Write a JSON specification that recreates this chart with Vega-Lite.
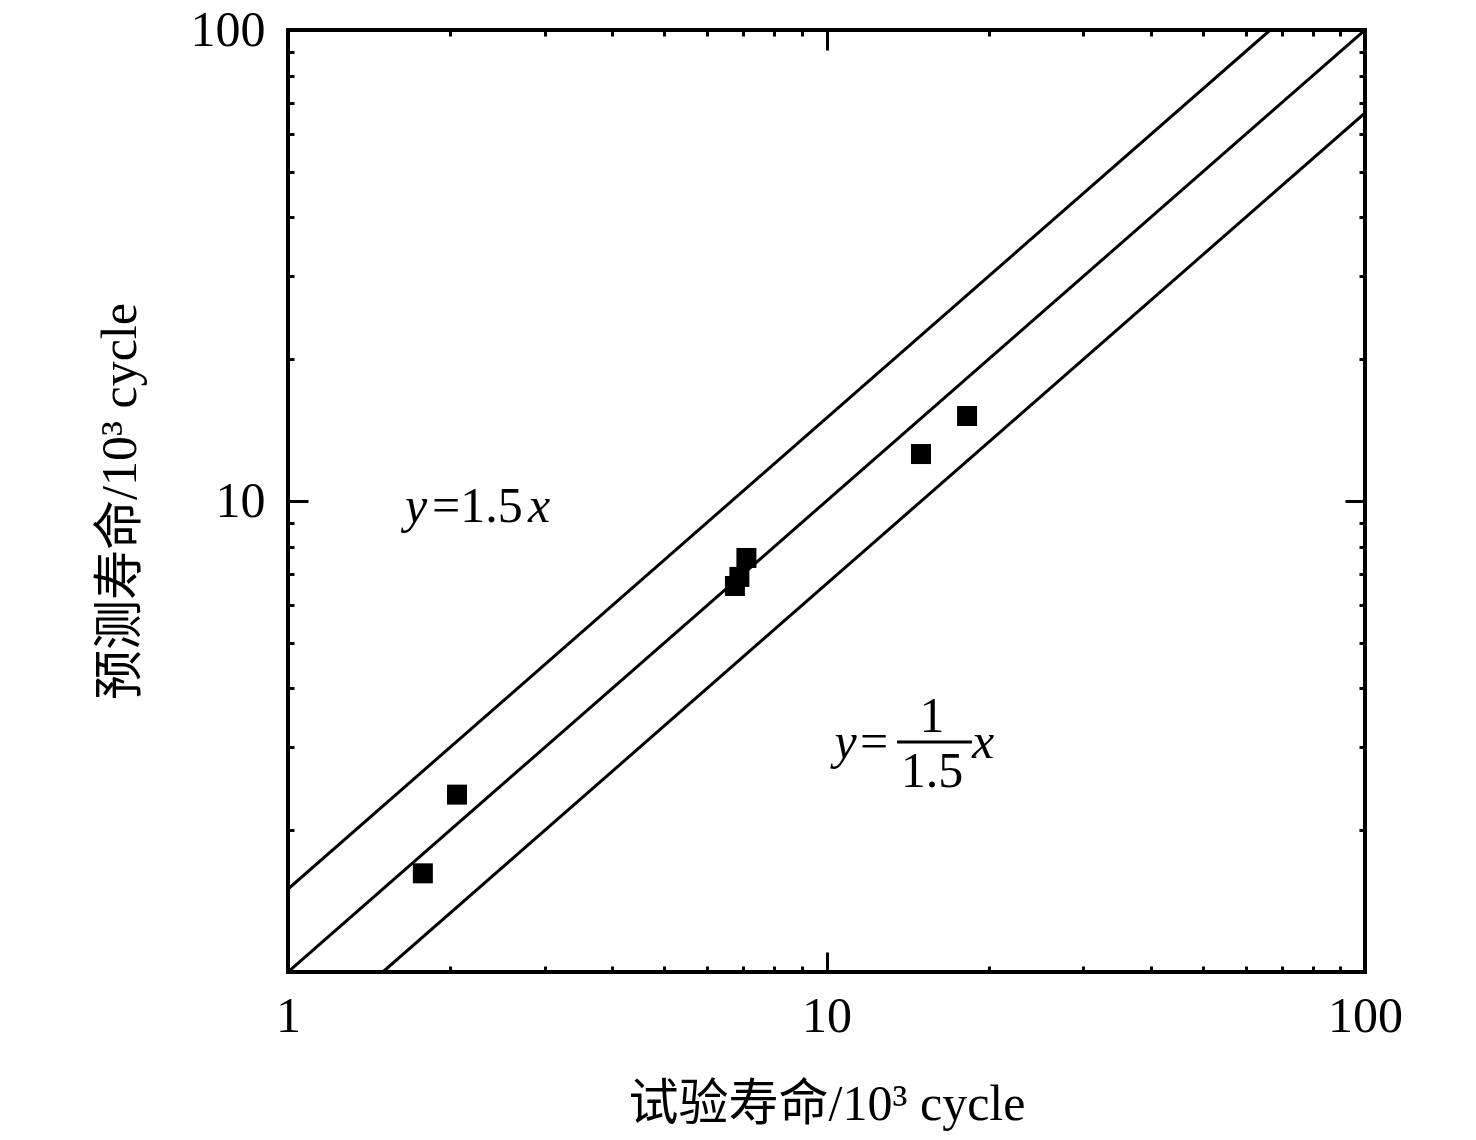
{
  "$schema": "https://vega.github.io/schema/vega-lite/v6.json",
  "autosize": {"type": "none"},
  "padding": {"left": 288, "top": 30, "right": 111, "bottom": 168},
  "width": 1077,
  "height": 942,
  "background": "white",
  "config": {
    "view": {"stroke": "black", "strokeWidth": 4},
    "axis": {
      "domain": false,
      "grid": false,
      "tickColor": "black",
      "tickWidth": 3,
      "labelFont": "Liberation Serif",
      "labelFontSize": 50,
      "labelColor": "black",
      "labelFlush": false,
      "labelOverlap": false,
      "labelBound": false,
      "titleFont": "Liberation Serif, Noto Sans CJK SC",
      "titleFontSize": 50,
      "titleFontWeight": "normal",
      "titleColor": "black"
    }
  },
  "datasets": {
    "guides": [
      {"series": "y=1.5x", "test": 1, "pred": 1.5},
      {"series": "y=1.5x", "test": 66.667, "pred": 100},
      {"series": "y=x", "test": 1, "pred": 1},
      {"series": "y=x", "test": 100, "pred": 100},
      {"series": "y=x/1.5", "test": 1.5, "pred": 1},
      {"series": "y=x/1.5", "test": 100, "pred": 66.667}
    ],
    "samples": [
      {"test": 1.78, "pred": 1.62},
      {"test": 2.06, "pred": 2.38},
      {"test": 6.76, "pred": 6.60},
      {"test": 6.89, "pred": 6.90},
      {"test": 7.10, "pred": 7.57},
      {"test": 14.98, "pred": 12.58},
      {"test": 18.24, "pred": 15.15}
    ],
    "variables": [
      {"text": "y", "test": 1.649, "pred": 9.02},
      {"text": "x", "test": 2.791, "pred": 9.02},
      {"text": "y", "test": 10.35, "pred": 2.847},
      {"text": "x", "test": 18.63, "pred": 2.847}
    ],
    "constants": [
      {"text": "=1.5", "test": 1.851, "pred": 9.02},
      {"text": "=", "test": 11.54, "pred": 2.847}
    ],
    "fraction": [
      {"text": "1", "test": 15.7, "pred": 3.233},
      {"text": "1.5", "test": 15.7, "pred": 2.471}
    ],
    "bar": [
      {"from": 13.52, "to": 18.63, "pred": 3.078}
    ]
  },
  "layer": [
    {
      "data": {"name": "guides"},
      "mark": {"type": "line", "color": "black", "strokeWidth": 3, "clip": true},
      "encoding": {
        "x": {
          "field": "test",
          "type": "quantitative",
          "scale": {"type": "log", "domain": [1, 100], "nice": false},
          "axis": {
            "orient": "bottom",
            "values": [1, 2, 3, 4, 5, 6, 7, 8, 9, 10, 20, 30, 40, 50, 60, 70, 80, 90, 100],
            "tickSize": {"condition": {"test": "datum.value == 1 || datum.value == 10 || datum.value == 100", "value": -20}, "value": -6},
            "labelPadding": 39,
            "labelExpr": "datum.value == 1 || datum.value == 10 || datum.value == 100 ? '' + datum.value : ''",
            "title": "试验寿命/10³ cycle",
            "titlePadding": 24
          }
        },
        "y": {
          "field": "pred",
          "type": "quantitative",
          "scale": {"type": "log", "domain": [1, 100], "nice": false},
          "axis": {
            "orient": "left",
            "values": [1, 2, 3, 4, 5, 6, 7, 8, 9, 10, 20, 30, 40, 50, 60, 70, 80, 90, 100],
            "tickSize": {"condition": {"test": "datum.value == 1 || datum.value == 10 || datum.value == 100", "value": -20}, "value": -6},
            "labelPadding": 43,
            "labelExpr": "datum.value == 10 || datum.value == 100 ? '' + datum.value : ''",
            "title": "预测寿命/10³ cycle",
            "titlePadding": 45
          }
        },
        "detail": {"field": "series", "type": "nominal"}
      }
    },
    {
      "data": {"name": "samples"},
      "mark": {"type": "point", "shape": "square", "filled": true, "color": "black", "opacity": 1, "size": 400},
      "encoding": {
        "x": {
          "field": "test",
          "type": "quantitative",
          "scale": {"type": "log", "domain": [1, 100], "nice": false},
          "axis": {
            "orient": "top",
            "values": [1, 2, 3, 4, 5, 6, 7, 8, 9, 10, 20, 30, 40, 50, 60, 70, 80, 90, 100],
            "tickSize": {"condition": {"test": "datum.value == 1 || datum.value == 10 || datum.value == 100", "value": -20}, "value": -6},
            "labels": false,
            "title": null
          }
        },
        "y": {
          "field": "pred",
          "type": "quantitative",
          "scale": {"type": "log", "domain": [1, 100], "nice": false},
          "axis": {
            "orient": "right",
            "values": [1, 2, 3, 4, 5, 6, 7, 8, 9, 10, 20, 30, 40, 50, 60, 70, 80, 90, 100],
            "tickSize": {"condition": {"test": "datum.value == 1 || datum.value == 10 || datum.value == 100", "value": -20}, "value": -6},
            "labels": false,
            "title": null
          }
        }
      }
    },
    {
      "data": {"name": "variables"},
      "mark": {"type": "text", "font": "Liberation Serif", "fontStyle": "italic", "fontSize": 50, "color": "black", "align": "left", "baseline": "alphabetic"},
      "encoding": {
        "x": {"field": "test", "type": "quantitative", "scale": {"type": "log", "domain": [1, 100], "nice": false}, "axis": null},
        "y": {"field": "pred", "type": "quantitative", "scale": {"type": "log", "domain": [1, 100], "nice": false}, "axis": null},
        "text": {"field": "text"}
      }
    },
    {
      "data": {"name": "constants"},
      "mark": {"type": "text", "font": "Liberation Serif", "fontSize": 50, "color": "black", "align": "left", "baseline": "alphabetic"},
      "encoding": {
        "x": {"field": "test", "type": "quantitative", "scale": {"type": "log", "domain": [1, 100], "nice": false}, "axis": null},
        "y": {"field": "pred", "type": "quantitative", "scale": {"type": "log", "domain": [1, 100], "nice": false}, "axis": null},
        "text": {"field": "text"}
      }
    },
    {
      "data": {"name": "fraction"},
      "mark": {"type": "text", "font": "Liberation Serif", "fontSize": 50, "color": "black", "align": "center", "baseline": "alphabetic"},
      "encoding": {
        "x": {"field": "test", "type": "quantitative", "scale": {"type": "log", "domain": [1, 100], "nice": false}, "axis": null},
        "y": {"field": "pred", "type": "quantitative", "scale": {"type": "log", "domain": [1, 100], "nice": false}, "axis": null},
        "text": {"field": "text"}
      }
    },
    {
      "data": {"name": "bar"},
      "mark": {"type": "rule", "color": "black", "strokeWidth": 3},
      "encoding": {
        "x": {"field": "from", "type": "quantitative", "scale": {"type": "log", "domain": [1, 100], "nice": false}, "axis": null},
        "x2": {"field": "to"},
        "y": {"field": "pred", "type": "quantitative", "scale": {"type": "log", "domain": [1, 100], "nice": false}, "axis": null}
      }
    }
  ],
  "resolve": {"scale": {"x": "independent", "y": "independent"}}
}
